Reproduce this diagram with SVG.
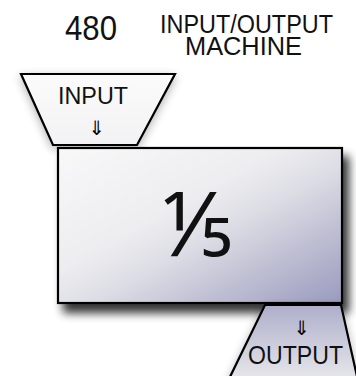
<svg xmlns="http://www.w3.org/2000/svg" width="356" height="376" viewBox="0 0 356 376">
  <defs>
    <linearGradient id="boxFill" x1="0" y1="0" x2="1" y2="1">
      <stop offset="0" stop-color="#f8f8f9"/>
      <stop offset="0.4" stop-color="#ededf0"/>
      <stop offset="0.56" stop-color="#dcdce5"/>
      <stop offset="0.75" stop-color="#bfbfd3"/>
      <stop offset="1" stop-color="#9a9abf"/>
    </linearGradient>
    <linearGradient id="outFill" x1="0" y1="0" x2="0" y2="1">
      <stop offset="0" stop-color="#aeaecb"/>
      <stop offset="1" stop-color="#e8e8ec"/>
    </linearGradient>
    <linearGradient id="inFill" x1="0" y1="0" x2="0" y2="1">
      <stop offset="0" stop-color="#fbfbfb"/>
      <stop offset="1" stop-color="#f2f2f4"/>
    </linearGradient>
    <filter id="dropShadow" x="-20%" y="-20%" width="140%" height="150%">
      <feGaussianBlur in="SourceAlpha" stdDeviation="5"/>
      <feOffset dx="6" dy="9" result="b"/>
      <feComponentTransfer><feFuncA type="linear" slope="0.8"/></feComponentTransfer>
      <feMerge><feMergeNode/><feMergeNode in="SourceGraphic"/></feMerge>
    </filter>
    <filter id="softShadow" x="-20%" y="-20%" width="140%" height="150%">
      <feGaussianBlur in="SourceAlpha" stdDeviation="5"/>
      <feOffset dx="0" dy="3" result="b"/>
      <feComponentTransfer><feFuncA type="linear" slope="0.3"/></feComponentTransfer>
      <feMerge><feMergeNode/><feMergeNode in="SourceGraphic"/></feMerge>
    </filter>
  </defs>
  <style>
    .lbl { font-family: "Liberation Sans", Arial, sans-serif; fill: #111; text-anchor: middle; }
    .arrow { font-family: "DejaVu Sans", "Noto Sans CJK JP", sans-serif; fill: #000; text-anchor: middle; font-size: 20px; }
    .edge { stroke: #000; stroke-width: 2.2; stroke-linejoin: miter; }
  </style>

  <rect width="356" height="376" fill="#ffffff"/>

  <g id="title">
    <text class="lbl" x="91" y="40" font-size="35" textLength="52" lengthAdjust="spacingAndGlyphs">480</text>
    <text class="lbl" x="246.5" y="33" font-size="26" textLength="173" lengthAdjust="spacingAndGlyphs">INPUT/OUTPUT</text>
    <text class="lbl" x="243.5" y="55" font-size="25" textLength="117" lengthAdjust="spacingAndGlyphs">MACHINE</text>
  </g>

  <g id="input">
    <polygon class="edge" points="21,74 175,74 137,145 53,145" fill="url(#inFill)" filter="url(#softShadow)"/>
    <text class="lbl" x="93" y="104" font-size="24" textLength="70" lengthAdjust="spacingAndGlyphs">INPUT</text>
    <text class="arrow" x="97" y="135">⇓</text>
  </g>

  <g id="machine">
    <rect class="edge" x="58" y="148" width="284" height="155" fill="url(#boxFill)" filter="url(#dropShadow)"/>
    <text x="197" y="256" font-family="'Noto Sans', sans-serif" font-size="90" text-anchor="middle" fill="#111">⅕</text>
  </g>

  <g id="output">
    <polygon class="edge" points="265,305 341,305 358,381 228,381" fill="url(#outFill)" filter="url(#softShadow)"/>
    <text class="arrow" x="302" y="335">⇓</text>
    <text class="lbl" x="295.5" y="364" font-size="25" textLength="95" lengthAdjust="spacingAndGlyphs">OUTPUT</text>
  </g>
</svg>
